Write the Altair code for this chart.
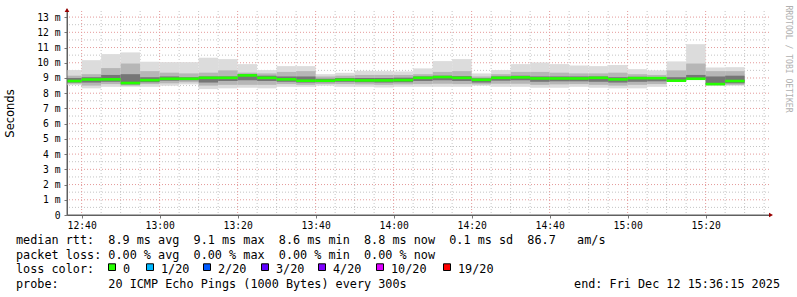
import altair as alt
import pandas as pd

# ---------------- data ----------------
GRAPH_START = 12 * 60 + 36.25   # 12:36:15
GRAPH_END = 15 * 60 + 36.25     # 15:36:15

step_end = ["12:40", "12:45", "12:50", "12:55", "13:00", "13:05", "13:10", "13:15",
            "13:20", "13:25", "13:30", "13:35", "13:40", "13:45", "13:50", "13:55",
            "14:00", "14:05", "14:10", "14:15", "14:20", "14:25", "14:30", "14:35",
            "14:40", "14:45", "14:50", "14:55", "15:00", "15:05", "15:10", "15:15",
            "15:20", "15:25", "15:30"]

rtt_max = [9.52, 10.17, 10.57, 10.68, 10.07, 10.04, 10.04, 10.33, 10.24, 9.91,
           9.52, 9.78, 9.78, 9.25, 9.34, 9.47, 9.45, 9.43, 9.63, 10.11,
           10.24, 9.30, 9.52, 9.91, 10.02, 9.91, 9.82, 9.78, 9.85, 9.58,
           9.50, 10.09, 11.22, 9.69, 9.71]
rtt_p90 = [9.15, 9.25, 9.65, 9.95, 9.45, 9.35, 9.30, 9.35, 9.50, 9.35,
           9.30, 9.40, 9.45, 9.10, 9.15, 9.20, 9.20, 9.20, 9.25, 9.40,
           9.45, 9.10, 9.25, 9.40, 9.40, 9.35, 9.30, 9.30, 9.35, 9.25,
           9.20, 9.50, 9.95, 9.45, 9.45]
rtt_p75 = [9.00, 9.05, 9.20, 9.25, 9.05, 9.10, 9.05, 9.10, 9.10, 9.25,
           9.15, 9.10, 9.10, 8.95, 9.00, 9.00, 9.00, 9.02, 9.10, 9.15,
           9.12, 8.98, 9.10, 9.15, 9.10, 9.10, 9.10, 9.10, 9.05, 9.08,
           9.05, 9.05, 9.20, 9.10, 9.15]
rtt_med = [8.80, 8.90, 8.91, 8.67, 8.86, 8.95, 8.95, 9.01, 9.01, 9.17,
           9.01, 8.91, 8.82, 8.82, 8.88, 8.84, 8.84, 8.86, 9.01, 9.06,
           9.01, 8.88, 9.01, 9.04, 8.97, 8.97, 8.97, 9.01, 8.91, 8.99,
           8.99, 8.82, 8.95, 8.60, 8.80]
rtt_p25 = [8.70, 8.70, 8.75, 8.58, 8.72, 8.82, 8.85, 8.70, 8.80, 8.85,
           8.80, 8.75, 8.70, 8.72, 8.75, 8.72, 8.70, 8.72, 8.80, 8.85,
           8.80, 8.70, 8.82, 8.85, 8.75, 8.78, 8.78, 8.75, 8.70, 8.75,
           8.78, 8.80, 8.93, 8.55, 8.65]
rtt_p10 = [8.62, 8.50, 8.60, 8.50, 8.60, 8.65, 8.72, 8.50, 8.55, 8.55,
           8.55, 8.60, 8.55, 8.60, 8.60, 8.58, 8.55, 8.58, 8.60, 8.62,
           8.60, 8.58, 8.62, 8.62, 8.55, 8.58, 8.60, 8.55, 8.50, 8.55,
           8.60, 8.78, 8.91, 8.52, 8.55]
rtt_min = [8.53, 8.32, 8.42, 8.42, 8.42, 8.49, 8.58, 8.27, 8.32, 8.36,
           8.32, 8.42, 8.42, 8.49, 8.42, 8.42, 8.38, 8.42, 8.42, 8.42,
           8.42, 8.49, 8.42, 8.42, 8.36, 8.36, 8.42, 8.36, 8.32, 8.32,
           8.42, 8.75, 8.90, 8.49, 8.49]

y_ticks = list(range(0, 14))
y_minor = [v + 0.5 for v in range(0, 13)]
x_major = [760, 780, 800, 820, 840, 860, 880, 900, 920]
x_minor = [765, 770, 775, 785, 790, 795, 805, 810, 815, 825, 830, 835, 845, 850, 855,
           865, 870, 875, 885, 890, 895, 905, 910, 915, 925, 930, 935]

loss_labels = ["0", "1/20", "2/20", "3/20", "4/20", "10/20", "19/20"]
loss_colors = ["#26ff00", "#00b8ff", "#0059ff", "#5e00ff", "#7e00ff", "#dd00ff", "#ff0000"]
loss_x = [108, 146, 203, 261, 318, 376, 443]

info_lines = [
    "median rtt:  8.9 ms avg  9.1 ms max  8.6 ms min  8.8 ms now  0.1 ms sd  86.7   am/s",
    "packet loss: 0.00 % avg  0.00 % max  0.00 % min  0.00 % now",
    "loss color:",
    "probe:       20 ICMP Echo Pings (1000 Bytes) every 300s",
]
end_text = "end: Fri Dec 12 15:36:15 2025"

# ---------------- table ----------------
ends = [int(s.split(":")[0]) * 60 + int(s.split(":")[1]) for s in step_end]
starts = [GRAPH_START] + ends[:-1]
df = pd.DataFrame({
    "t0": starts, "t1": ends,
    "mx": rtt_max, "p90": rtt_p90, "p75": rtt_p75, "med": rtt_med,
    "p25": rtt_p25, "p10": rtt_p10, "mn": rtt_min,
})

W, H = 702, 204
PL, PT = 67, 11
MONO = "DejaVu Sans Mono"

xscale = alt.Scale(domain=[GRAPH_START, GRAPH_END], nice=False, zero=False)
yscale = alt.Scale(domain=[0, 13.4], nice=False, zero=True)

xaxis = alt.Axis(values=x_major, grid=False, title=None,
                 labelExpr="floor(datum.value/60) + ':' + (datum.value % 60 < 10 ? '0' : '') + (datum.value % 60)",
                 labelFont=MONO, labelFontSize=9.7, labelColor="#000000",
                 labelPadding=2, tickSize=3, tickColor="#777777",
                 domainColor="#606060", labelFlush=False, labelOverlap=False)
yaxis = alt.Axis(values=y_ticks, grid=False, title=None,
                 labelExpr="datum.value == 0 ? '0' : datum.value + ' m'",
                 labelFont=MONO, labelFontSize=9.7, labelColor="#000000",
                 labelPadding=4, tickSize=3, tickColor="#777777",
                 domainColor="#606060")

def X(f):
    return alt.X(f, scale=xscale, axis=xaxis, title=None)

def Y(f):
    return alt.Y(f, scale=yscale, axis=yaxis, title=None)

layers = []

# grid
layers.append(alt.Chart(pd.DataFrame({"v": y_minor})).mark_rule(
    color="#c4c4c4", strokeDash=[1, 2], strokeWidth=1).encode(y=Y("v:Q")))
layers.append(alt.Chart(pd.DataFrame({"v": x_minor})).mark_rule(
    color="#c4c4c4", strokeDash=[1, 2], strokeWidth=1).encode(x=X("v:Q")))
layers.append(alt.Chart(pd.DataFrame({"v": y_ticks[1:]})).mark_rule(
    color="#e49a9a", strokeDash=[1, 2], strokeWidth=1).encode(y=Y("v:Q")))
layers.append(alt.Chart(pd.DataFrame({"v": x_major})).mark_rule(
    color="#e49a9a", strokeDash=[1, 2], strokeWidth=1).encode(x=X("v:Q")))

# smoke
base = alt.Chart(df)
layers.append(base.mark_rect(color="#dcdcdc").encode(
    x=X("t0:Q"), x2="t1:Q", y=Y("mn:Q"), y2="mx:Q"))
layers.append(base.mark_rect(color="#b6b6b6").encode(
    x=X("t0:Q"), x2="t1:Q", y=Y("p10:Q"), y2="p90:Q"))
layers.append(base.mark_rect(color="#767676").encode(
    x=X("t0:Q"), x2="t1:Q", y=Y("p25:Q"), y2="p75:Q"))
# median
layers.append(base.mark_rule(color="#26ff00", strokeWidth=2.6).encode(
    x=X("t0:Q"), x2="t1:Q", y=Y("med:Q")))

# axis extensions and arrows
layers.append(alt.Chart(pd.DataFrame({"a": [0]})).mark_rule(color="#606060").encode(
    x=alt.value(0), y=alt.value(-2), y2=alt.value(H)))
layers.append(alt.Chart(pd.DataFrame({"a": [0]})).mark_rule(color="#606060").encode(
    x=alt.value(0), x2=alt.value(W + 2), y=alt.value(H)))
layers.append(alt.Chart(pd.DataFrame({"a": [0]})).mark_point(
    shape="triangle-up", filled=True, color="#990000", size=22, opacity=1).encode(
    x=alt.value(0), y=alt.value(-1)))
layers.append(alt.Chart(pd.DataFrame({"a": [0]})).mark_point(
    shape="triangle-right", filled=True, color="#990000", size=22, opacity=1).encode(
    x=alt.value(W + 2), y=alt.value(H)))

# texts
def txt(s, x, y, **kw):
    return alt.Chart(pd.DataFrame({"t": [s.replace(" ", "\u00a0")]})).mark_text(**kw).encode(
        text="t:N", x=alt.value(x), y=alt.value(y))

layers.append(txt("Seconds", 11 - PL, 113.5 - PT, font="DejaVu Sans", fontSize=11.5,
                  angle=270, align="center", baseline="middle", color="#000000"))
layers.append(txt("RRDTOOL / TOBI OETIKER", 788 - PL, 59 - PT, font=MONO, fontSize=8.1,
                  angle=90, align="center", baseline="middle", color="#b0b0b0"))

baselines = [244.3, 258.7, 273.1, 287.5]
for s, b in zip(info_lines, baselines):
    layers.append(txt(s, 16 - PL, b - PT, font=MONO, fontSize=11.8, align="left",
                      baseline="alphabetic", color="#000000"))
layers.append(txt(end_text, 780 - PL, baselines[3] - PT, font=MONO, fontSize=11.8,
                  align="right", baseline="alphabetic", color="#000000"))

for lab, col, lx in zip(loss_labels, loss_colors, loss_x):
    layers.append(alt.Chart(pd.DataFrame({"a": [0]})).mark_rect(
        color=col, stroke="#000000", strokeWidth=1).encode(
        x=alt.value(lx - PL + 0.5), x2=alt.value(lx - PL + 7.5),
        y=alt.value(263.8 - PT), y2=alt.value(270.5 - PT)))
    layers.append(txt(lab, lx + 15 - PL, baselines[2] - PT, font=MONO, fontSize=11.8,
                      align="left", baseline="alphabetic", color="#000000"))

chart = alt.layer(*layers).properties(
    width=W, height=H,
    autosize=alt.AutoSizeParams(type="none"),
    padding={"left": PL, "top": PT, "right": 797 - PL - W, "bottom": 297 - PT - H},
    background="#ffffff",
).configure_view(stroke=None)

chart.save("out.html", embed_options={"renderer": "svg", "actions": False})
